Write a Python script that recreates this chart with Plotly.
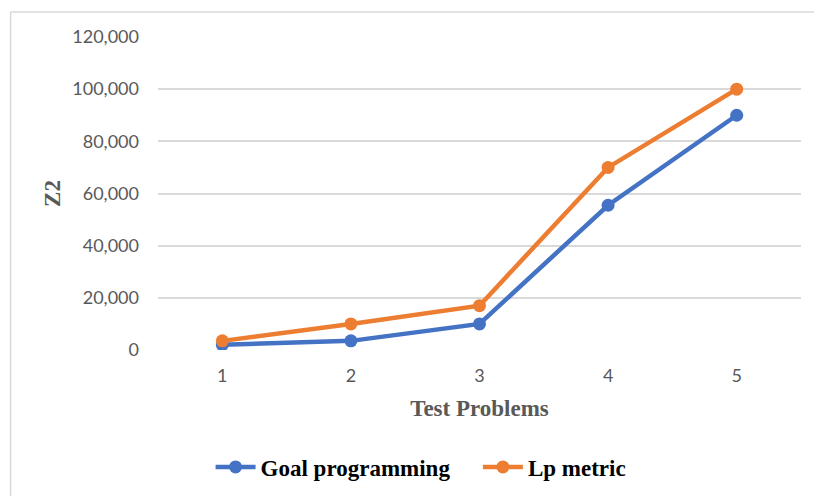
import plotly.graph_objects as go

categories = [1, 2, 3, 4, 5]
goal_programming = [2000, 3500, 10000, 55500, 90000]
lp_metric = [3500, 10000, 17000, 70000, 100000]
y_ticks = [0, 20000, 40000, 60000, 80000, 100000, 120000]
y_tick_labels = ["0", "20,000", "40,000", "60,000", "80,000", "100,000", "120,000"]

W, H = 814, 496
L, R, T, B = 157.6, 12.6, 37, 146
pw = W - L - R
ph = H - T - B

fig = go.Figure()
fig.add_trace(go.Scatter(
    x=categories, y=goal_programming, name="<b>Goal programming</b>\u00a0\u00a0\u00a0\u00a0",
    mode="lines+markers", line=dict(color="#4472C4", width=4.5),
    marker=dict(size=13, color="#4472C4")))
fig.add_trace(go.Scatter(
    x=categories, y=lp_metric, name="<b>Lp metric</b>",
    mode="lines+markers", line=dict(color="#ED7D31", width=4.5),
    marker=dict(size=13, color="#ED7D31")))

def px_x(p):
    return (p - L) / pw

def px_y(p):
    return (H - B - p) / ph

shapes = [
    dict(type="line", xref="paper", yref="paper", x0=px_x(10), x1=px_x(830),
         y0=px_y(12), y1=px_y(12), line=dict(color="#d9d9d9", width=1.5)),
    dict(type="line", xref="paper", yref="paper", x0=px_x(10), x1=px_x(10),
         y0=px_y(12), y1=px_y(510), line=dict(color="#d9d9d9", width=1.5)),
]

fig.update_layout(
    width=W, height=H,
    margin=dict(l=L, r=R, t=T, b=B, pad=0, autoexpand=False),
    paper_bgcolor="white", plot_bgcolor="white",
    showlegend=True,
    legend=dict(orientation="h", x=px_x(421), y=px_y(467), xanchor="center", yanchor="middle",
                font=dict(family="Liberation Serif", size=23, color="black"),
                itemwidth=40, traceorder="normal", bgcolor="rgba(0,0,0,0)"),
    shapes=shapes,
    xaxis=dict(range=[0.5, 5.5], tickvals=categories, ticktext=[str(c) for c in categories],
               showgrid=False, zeroline=False, showline=False, ticks="",
               ticklabelstandoff=13,
               tickfont=dict(family="Lato", size=18, color="#595959"),
               title=dict(text="<b>Test Problems</b>", standoff=14,
                          font=dict(family="Liberation Serif", size=23, color="#595959"))),
    yaxis=dict(range=[0, 120000], tickvals=y_ticks, ticktext=y_tick_labels,
               showgrid=True, gridcolor="#d9d9d9", gridwidth=1.5,
               zeroline=False, showline=False, ticks="",
               ticklabelstandoff=18,
               tickfont=dict(family="Lato", size=18, color="#595959"),
               title=dict(text="<b>Z2</b>", standoff=5,
                          font=dict(family="Liberation Serif", size=23, color="#595959"))),
)

fig.write_html("out.html")
